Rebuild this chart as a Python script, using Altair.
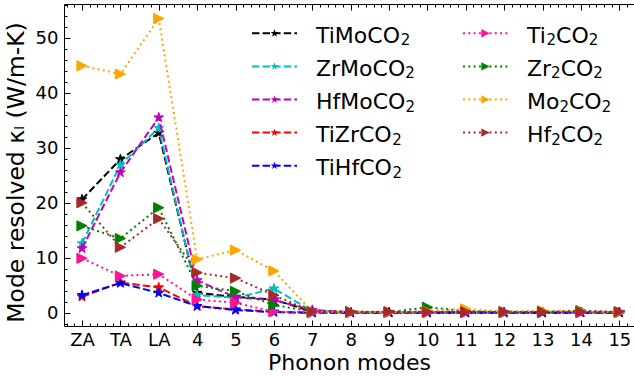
import json
import altair as alt
import numpy as np
import pandas as pd

# ---------------- data ----------------
mode_labels = ["ZA", "TA", "LA", "4", "5", "6", "7", "8", "9", "10", "11", "12", "13", "14", "15"]
mode_pos = list(range(1, 16))

names = ["TiMoCO₂", "ZrMoCO₂", "HfMoCO₂", "TiZrCO₂", "TiHfCO₂",
         "Ti₂CO₂", "Zr₂CO₂", "Mo₂CO₂", "Hf₂CO₂"]
colors = ["#000000", "#00bfbf", "#bf00bf", "#ff0000", "#0000ff",
          "#ff1493", "#008000", "#ffa500", "#a52a2a"]
kinds = ["janus"] * 5 + ["pristine"] * 4

timoco2 = [20.7, 28.0, 32.8, 3.7, 3.0, 2.5, 0.3, 0.2, 0.2, 0.2, 0.2, 0.2, 0.2, 0.2, 0.2]
zrmoco2 = [12.7, 27.0, 33.7, 3.3, 2.8, 4.5, 0.4, 0.2, 0.2, 0.2, 0.2, 0.2, 0.2, 0.2, 0.2]
hfmoco2 = [11.8, 25.6, 35.6, 6.0, 2.9, 2.4, 0.6, 0.2, 0.2, 0.2, 0.2, 0.2, 0.2, 0.2, 0.2]
tizrco2 = [3.0, 5.6, 4.7, 1.3, 0.7, 0.3, 0.1, 0.1, 0.1, 0.1, 0.1, 0.1, 0.1, 0.1, 0.1]
tihfco2 = [3.3, 5.5, 3.7, 1.3, 0.6, 0.2, 0.1, 0.1, 0.1, 0.1, 0.1, 0.1, 0.1, 0.1, 0.1]
ti2co2 = [10.0, 6.8, 7.1, 2.5, 1.9, 0.3, 0.1, 0.1, 0.1, 0.1, 0.1, 0.1, 0.1, 0.1, 0.1]
zr2co2 = [15.9, 13.6, 19.2, 5.0, 4.0, 1.5, 0.3, 0.3, 0.2, 1.1, 0.4, 0.2, 0.2, 0.5, 0.2]
mo2co2 = [45.0, 43.5, 53.6, 9.8, 11.5, 7.7, 0.3, 0.3, 0.2, 0.4, 0.8, 0.3, 0.5, 0.4, 0.2]
hf2co2 = [20.1, 12.0, 17.2, 7.4, 6.4, 3.3, 0.3, 0.3, 0.3, 0.3, 0.3, 0.3, 0.3, 0.3, 0.3]
series_values = [timoco2, zrmoco2, hfmoco2, tizrco2, tihfco2,
                 ti2co2, zr2co2, mo2co2, hf2co2]

y_major = [0, 10, 20, 30, 40, 50]

# ---------------- layout / style ----------------
W, H = 570, 322
X_DOM = [0.531, 15.382]
Y_DOM = [-2.31, 56.24]
FONT = "DejaVu Sans"
FS, SUB_FS, SUB_DROP = 22, 15, 2.5

ang = np.deg2rad(90 + 36 * np.arange(10))
rad = np.where(np.arange(10) % 2 == 0, 1.0, 0.381966)
pts = [(r * np.cos(a), -r * np.sin(a)) for r, a in zip(rad, ang)]
STAR = "M" + "L".join(f"{px:.4f},{py:.4f}" for px, py in pts) + "Z"
TRI = "M1,0L-1,-1L-1,1Z"
DASH = {"janus": [7.4, 3.2], "pristine": [2, 3.3]}
SHAPE = {"janus": STAR, "pristine": TRI}

x_minor = [round(v, 1) for v in np.arange(0.6, 15.39, 0.2)]
y_minor = list(range(-2, 57, 2))

label_expr = json.dumps(mode_labels) + "[datum.value - 1]"

xs = alt.Scale(domain=X_DOM, nice=False, zero=False)
ys = alt.Scale(domain=Y_DOM, nice=False, zero=False)

base_ax = dict(grid=False, tickColor="black", domainColor="black", title=None)

x_axes = [
    alt.Axis(orient="bottom", values=mode_pos, labelExpr=label_expr, ticks=False,
             domain=True, domainWidth=1, grid=False, labelFont=FONT, labelFontSize=18,
             labelColor="black", labelPadding=5, labelAngle=0, domainColor="black",
             title="Phonon modes", titleFont=FONT, titleFontSize=22,
             titleFontWeight="normal", titleColor="black", titlePadding=3),
    alt.Axis(orient="top", offset=-H, values=mode_pos, labels=False, domain=False,
             tickSize=6, tickWidth=1, **base_ax),
    alt.Axis(orient="top", offset=-H, values=x_minor, labels=False, domain=False,
             tickSize=3, tickWidth=1, **base_ax),
    alt.Axis(orient="bottom", offset=-H, values=mode_pos, labels=False, domain=True,
             tickSize=6, tickWidth=1, **base_ax),
    alt.Axis(orient="bottom", offset=-H, values=x_minor, labels=False, domain=False,
             tickSize=3, tickWidth=1, **base_ax),
]
y_axes = [
    alt.Axis(orient="left", values=y_major, ticks=False, domain=True, grid=False,
             labelFont=FONT, labelFontSize=18, labelColor="black", labelPadding=6,
             domainColor="black", title="Mode resolved κₗ (W/m-K)", titleFont=FONT,
             titleFontSize=23.5, titleFontWeight="normal", titleColor="black",
             titlePadding=7, titleY=168),
    alt.Axis(orient="right", offset=-W, values=y_major, labels=False, domain=False,
             tickSize=6, tickWidth=1, **base_ax),
    alt.Axis(orient="right", offset=-W, values=y_minor, labels=False, domain=False,
             tickSize=3, tickWidth=1, **base_ax),
]

layers = []
k = 0
for name, col, kind, vals in zip(names, colors, kinds, series_values):
    df = pd.DataFrame({"mode": mode_pos, "kappa": vals})
    for part in ("line", "point"):
        xa = x_axes[k] if k < len(x_axes) else None
        ya = y_axes[k] if k < len(y_axes) else None
        enc = dict(
            x=alt.X("mode:Q", scale=xs, axis=xa),
            y=alt.Y("kappa:Q", scale=ys, axis=ya),
        )
        if part == "line":
            mk = alt.Chart(df).mark_line(color=col, strokeWidth=2, strokeDash=DASH[kind])
        else:
            mk = alt.Chart(df).mark_point(shape=SHAPE[kind], filled=True, fill=col,
                                          stroke=col, strokeWidth=1, size=105, opacity=1)
        layers.append(mk.encode(**enc))
        k += 1

main = alt.layer(*layers).resolve_axis(x="independent", y="independent")

# ---------------- legend (two columns, column-major) ----------------
# DejaVu Sans advance widths (em) used to place subscript pieces
ADV = {"T": .611, "i": .278, "M": .863, "o": .612, "C": .698, "O": .787,
       "Z": .685, "r": .411, "H": .752, "f": .352, "2": .636}

leg_rows, seg_rows = [], []
for i, (name, col, kind) in enumerate(zip(names, colors, kinds)):
    c = 0 if kind == "janus" else 1
    r = i if c == 0 else i - 5
    x0 = 188 + 211 * c
    yy = 29.3 + 33.1 * r
    leg_rows.append(dict(name=name, kind=kind, x0=x0, x1=x0 + 45, xm=x0 + 22.5, yy=yy))
    xt = x0 + 64
    pieces = name.split("₂")
    for j, piece in enumerate(pieces):
        if piece:
            seg_rows.append(dict(t=piece, x=xt, y=yy + 9.5, sub=False))
            xt += sum(ADV.get(ch, .6) for ch in piece) * FS
        if j < len(pieces) - 1:
            seg_rows.append(dict(t="2", x=xt, y=yy + 9.5 + SUB_DROP, sub=True))
            xt += ADV["2"] * SUB_FS
leg = pd.DataFrame(leg_rows)
seg = pd.DataFrame(seg_rows)

lxs = alt.Scale(domain=[0, W], nice=False, zero=False)
lys = alt.Scale(domain=[H, 0], nice=False, zero=False)
cscale = alt.Scale(domain=names, range=colors)
dscale = alt.Scale(domain=list(DASH.keys()), range=list(DASH.values()))
sscale = alt.Scale(domain=list(SHAPE.keys()), range=list(SHAPE.values()))

leg_lines = alt.Chart(leg).mark_rule(strokeWidth=2).encode(
    x=alt.X("x0:Q", scale=lxs, axis=None), x2="x1:Q",
    y=alt.Y("yy:Q", scale=lys, axis=None),
    color=alt.Color("name:N", scale=cscale, legend=None),
    strokeDash=alt.StrokeDash("kind:N", scale=dscale, legend=None),
)
leg_pts = alt.Chart(leg).mark_point(filled=True, size=70, opacity=1, strokeWidth=1).encode(
    x=alt.X("xm:Q", scale=lxs, axis=None),
    y=alt.Y("yy:Q", scale=lys, axis=None),
    color=alt.Color("name:N", scale=cscale, legend=None),
    shape=alt.Shape("kind:N", scale=sscale, legend=None),
)
leg_main_txt = alt.Chart(seg).transform_filter("!datum.sub").mark_text(
    align="left", baseline="alphabetic", font=FONT, fontSize=FS, color="black"
).encode(
    x=alt.X("x:Q", scale=lxs, axis=None),
    y=alt.Y("y:Q", scale=lys, axis=None),
    text="t:N",
)
leg_sub_txt = alt.Chart(seg).transform_filter("datum.sub").mark_text(
    align="left", baseline="alphabetic", font=FONT, fontSize=SUB_FS, color="black"
).encode(
    x=alt.X("x:Q", scale=lxs, axis=None),
    y=alt.Y("y:Q", scale=lys, axis=None),
    text="t:N",
)
legend = alt.layer(leg_lines, leg_pts, leg_main_txt, leg_sub_txt)

chart = alt.layer(main, legend).resolve_scale(
    x="independent", y="independent", color="independent"
).properties(
    width=W, height=H, autosize="none",
    padding={"left": 64, "top": 4, "right": 0, "bottom": 50},
).configure_view(stroke=None).configure(font=FONT, background="white")

chart.save("out.html", embed_options={"renderer": "svg", "actions": False})
